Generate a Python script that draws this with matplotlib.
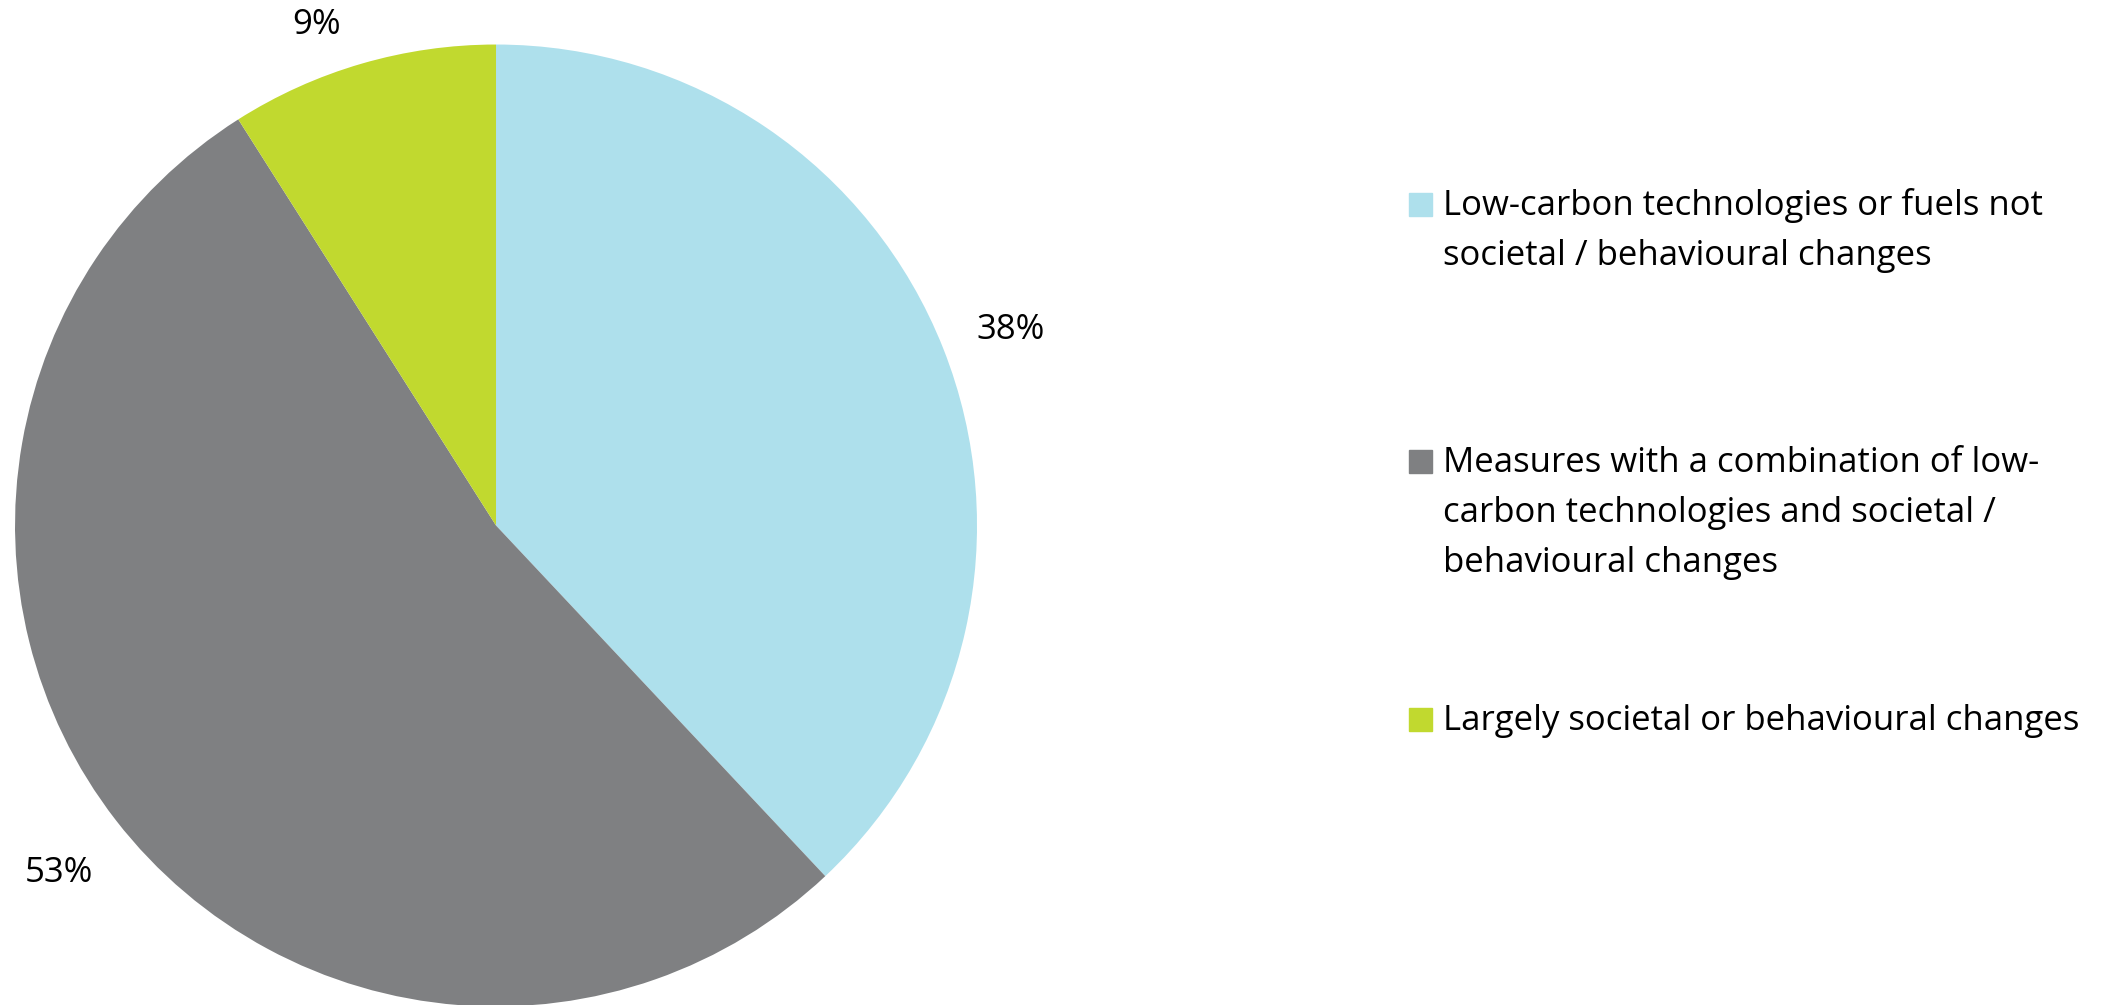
import matplotlib.pyplot as plt
from matplotlib.patches import Rectangle

plt.rcParams['font.family'] = ['Open Sans', 'DejaVu Sans']

categories = [
    "Low-carbon technologies or fuels not\nsocietal / behavioural changes",
    "Measures with a combination of low-\ncarbon technologies and societal /\nbehavioural changes",
    "Largely societal or behavioural changes",
]
shares = [38, 53, 9]
colours = ["#AEE0EC", "#7F8082", "#C1D92F"]

W, H = 2108, 1005
fig = plt.figure(figsize=(W / 100, H / 100), dpi=100)

# pie
ax = fig.add_axes([0.0071, -0.0015, 0.4564, 0.9572])
wedges, texts, autotexts = ax.pie(
    shares, colors=colours, startangle=90, counterclock=False,
    autopct=lambda p: f"{round(p)}%", pctdistance=1.15,
    textprops={"fontsize": 25, "color": "black"},
    wedgeprops={"linewidth": 0},
)
for t in autotexts:
    x, y = t.get_position()
    t.set_position((x, y - 0.017))
# small slice label sits a bit closer and further left
autotexts[2].set_position((-0.374, 1.041))
ax.set_xlim(-1, 1)
ax.set_ylim(-1, 1)
ax.set_aspect("equal")

# legend drawn by hand: square on the first line, one text per line
baselines = [215, 472, 730]  # pixels from the top
line_step = 50
for lab, col, b in zip(categories, colours, baselines):
    fig.patches.append(Rectangle((1409 / W, (H - b - 1) / H), 23 / W, 23 / H,
                                 transform=fig.transFigure, color=col))
    for i, line in enumerate(lab.split("\n")):
        fig.text(1443 / W, (H - b - i * line_step) / H, line, fontsize=25,
                 va="baseline", ha="left")

fig.savefig("out.png", dpi=100)
